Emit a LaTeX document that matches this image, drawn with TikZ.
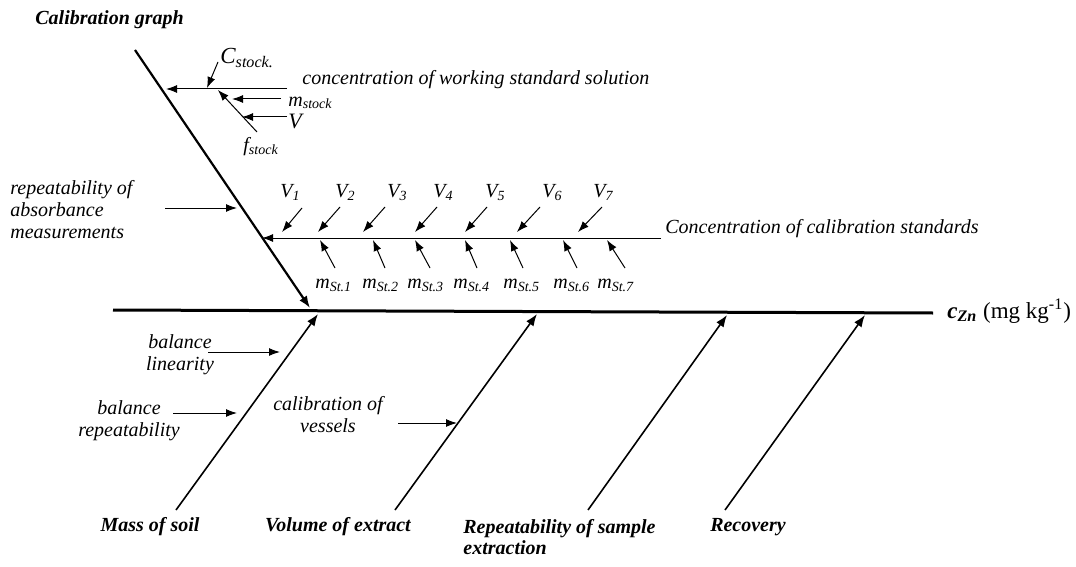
\documentclass[tikz,border=0pt]{standalone}
\usepackage{fontspec}
\setmainfont{Liberation Serif}
\usetikzlibrary{arrows.meta}
\begin{document}
\begin{tikzpicture}[x=0.5pt,y=-0.5pt,
  lab/.style={font=\fontsize{10}{11}\selectfont\itshape, inner sep=0pt},
  blab/.style={font=\fontsize{10}{11}\selectfont\bfseries\itshape, inner sep=0pt},
  spine/.style={line width=1.5pt},
  bigbone/.style={line width=1.1pt,-{Latex[length=6pt,width=4.5pt]}},
  bone/.style={line width=0.8pt,-{Latex[length=6pt,width=4.5pt]}},
  arr/.style={line width=0.5pt,-{Latex[length=5.5pt,width=4pt]}},
  plain/.style={line width=0.6pt}]
\useasboundingbox (0,0) rectangle (1076,567);
% main spine
\coordinate (spL) at (113,310);
\coordinate (spR) at (933,313);
\draw[spine] (spL) -- (spR);
\node[anchor=base west, inner sep=0pt, font=\fontsize{11.5}{12.5}\selectfont] (czn) at (947,318)
  {\textbf{\textit{c}}\textsubscript{\textbf{\textit{Zn}}} (mg kg\textsuperscript{-1})};
% calibration graph bone
\coordinate (cgT) at (135,50);
\coordinate (cgB) at (310,308);
\draw[bigbone] (cgT) -- (cgB);
\node[blab, anchor=base west] (cg) at (35,25) {Calibration graph};
% working standard solution
\coordinate (wsR) at (287,89);
\coordinate (wsL) at (166,89);
\draw[arr] (wsR) -- (wsL);
\node[lab, anchor=base west] (ws) at (302,85) {concentration of working standard solution};
\node[lab, anchor=base west, font=\fontsize{11.5}{12}\selectfont\itshape] (cst) at (220,64) {C\textsubscript{stock.}};
\coordinate (cstA) at (218,62); \coordinate (cstB) at (207,88);
\draw[arr] (cstA) -- (cstB);
\node[lab, anchor=base west] (mst) at (288,106) {m\textsubscript{stock}};
\coordinate (mstA) at (281,99); \coordinate (mstB) at (232,99);
\draw[arr] (mstA) -- (mstB);
\node[lab, anchor=base west, font=\fontsize{11}{12}\selectfont\itshape] (vv) at (288,129) {V};
\coordinate (vA) at (287,117); \coordinate (vB) at (242,117);
\draw[arr] (vA) -- (vB);
\node[lab, anchor=base west] (fst) at (243,152) {f\textsubscript{stock}};
\coordinate (fA) at (257,132); \coordinate (fB) at (218,90);
\draw[arr] (fA) -- (fB);
% absorbance
\node[lab, anchor=west, align=left] (abs) at (10,210) {repeatability of\\absorbance\\measurements};
\coordinate (absA) at (165,208); \coordinate (absB) at (237,208);
\draw[arr] (absA) -- (absB);
% calibration standards
\coordinate (csR) at (661,238); \coordinate (csL) at (262,238);
\draw[arr] (csR) -- (csL);
\node[lab, anchor=base west] (cs) at (665,233) {Concentration of calibration standards};
\foreach \i/\lx/\tx/\ty/\hx in {1/280/302/208/282, 2/335/340/207/318, 3/387/385/207/363, 4/433/437/207/415, 5/485/487/207/465, 6/542/540/207/517, 7/593/602/207/578}{
  \node[lab, anchor=base west] (V\i) at (\lx,198) {V\textsubscript{\i}};
  \coordinate (Va\i) at (\tx,\ty); \coordinate (Vb\i) at (\hx,232);
  \draw[arr] (Va\i) -- (Vb\i);
}
\foreach \i/\lx/\tx/\hx in {1/315/335/320, 2/362/385/373, 3/407/430/415, 4/453/477/465, 5/503/523/510, 6/553/577/563, 7/597/625/607}{
  \node[lab, anchor=base west] (m\i) at (\lx,288) {m\textsubscript{St.\i}};
  \coordinate (ma\i) at (\tx,268); \coordinate (mb\i) at (\hx,240);
  \draw[arr] (ma\i) -- (mb\i);
}
% bottom bones
\coordinate (b1) at (176,510); \coordinate (t1) at (318,314);
\coordinate (b2) at (395,510); \coordinate (t2) at (537,314);
\coordinate (b3) at (588,510); \coordinate (t3) at (727,315);
\coordinate (b4) at (725,510); \coordinate (t4) at (865,315);
\draw[bone] (b1) -- (t1);
\draw[bone] (b2) -- (t2);
\draw[bone] (b3) -- (t3);
\draw[bone] (b4) -- (t4);
\node[blab] (mos) at (150,527) {Mass of soil};
\node[blab] (voe) at (338,527) {Volume of extract};
\node[blab, anchor=north west, align=left, font=\fontsize{10}{10.5}\selectfont\bfseries\itshape] (rse) at (463,519) {Repeatability of sample\\extraction};
\node[blab] (rec) at (748,527) {Recovery};
% side causes
\node[lab, align=center] (bl) at (180,355) {balance\\linearity};
\coordinate (blA) at (208,352); \coordinate (blB) at (280,352);
\draw[arr] (blA) -- (blB);
\node[lab, align=center] (br) at (129,421) {balance\\repeatability};
\coordinate (brA) at (173,413); \coordinate (brB) at (237,413);
\draw[arr] (brA) -- (brB);
\node[lab, align=center] (cv) at (328,415) {calibration of\\vessels};
\coordinate (cvA) at (398,423); \coordinate (cvB) at (457,423);
\draw[arr] (cvA) -- (cvB);
\end{tikzpicture}
\end{document}
